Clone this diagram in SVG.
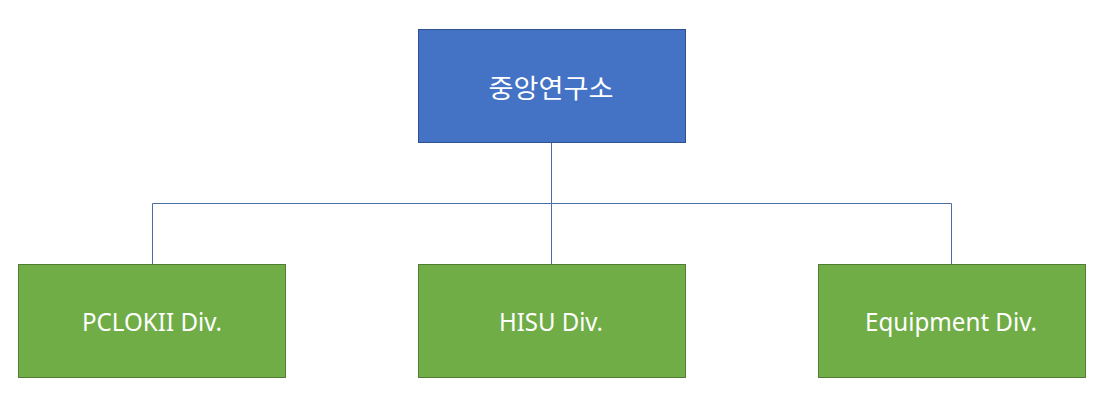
<svg xmlns="http://www.w3.org/2000/svg" width="1102" height="400" viewBox="0 0 1102 400">
<style>
.blue{fill:#4472C4;stroke:#2F528F;stroke-width:1}
.green{fill:#70AD47;stroke:#507E32;stroke-width:1}
.lbl{fill:#FFFFFF;font-family:"Noto Sans","Noto Sans CJK KR",sans-serif;font-size:25px;text-anchor:middle}
.kr{fill:#FFFFFF;font-family:"Noto Sans CJK KR",sans-serif;font-size:26px;text-anchor:middle;dominant-baseline:central}
.conn{fill:none;stroke:#4A6FA5;stroke-width:1}
</style>
<rect width="1102" height="400" fill="#FFFFFF"/>
<g id="connectors">
<path class="conn" d="M551.5 143V264"/>
<path class="conn" d="M152.5 264V203.5H951.5V264"/>
</g>
<g id="root">
<rect class="blue" x="418.5" y="29.5" width="267" height="113"/>
<text class="kr" x="551" y="86" textLength="125" lengthAdjust="spacingAndGlyphs">중앙연구소</text>
</g>
<g id="pclokii">
<rect class="green" x="18.5" y="264.5" width="267" height="113"/>
<text class="lbl" x="152" y="331" textLength="140" lengthAdjust="spacingAndGlyphs">PCLOKII Div.</text>
</g>
<g id="hisu">
<rect class="green" x="418.5" y="264.5" width="267" height="113"/>
<text class="lbl" x="551" y="331" textLength="104" lengthAdjust="spacingAndGlyphs">HISU Div.</text>
</g>
<g id="equipment">
<rect class="green" x="818.5" y="264.5" width="267" height="113"/>
<text class="lbl" x="951" y="331" textLength="172" lengthAdjust="spacingAndGlyphs">Equipment Div.</text>
</g>
</svg>
